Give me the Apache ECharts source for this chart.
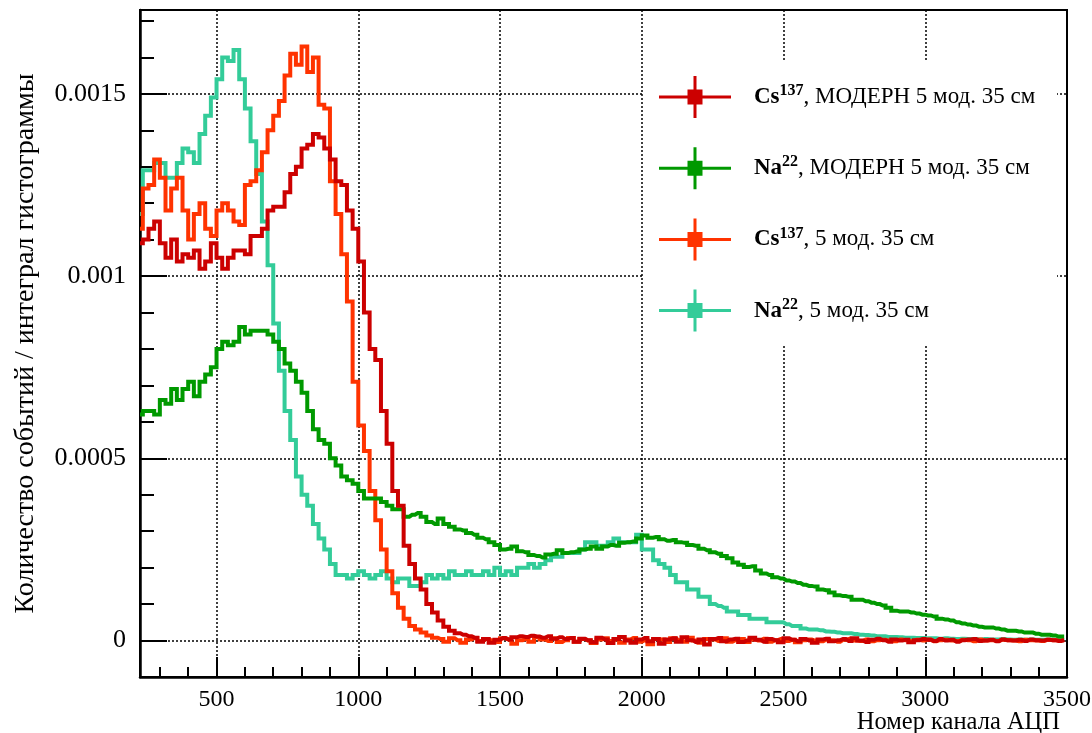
<!DOCTYPE html>
<html>
<head>
<meta charset="utf-8">
<script src="https://cdn.jsdelivr.net/npm/echarts@6.0.0/dist/echarts.min.js"></script>
<style>
html, body { margin: 0; padding: 0; background: #fff; }
#chart { width: 1092px; height: 733px; }
</style>
</head>
<body>
<div id="chart"></div>
<script>
// ADC spectra, normalised to the histogram integral; 20-channel bins
const BIN_START = 230;   // centre of the first visible bin
const BIN_WIDTH = 20;

// Cs137, МОДЕРН 5 мод. 35 см
const csModern = [
  0.00109, 0.00110, 0.00113, 0.00115, 0.00109, 0.00105, 0.00110, 0.00104, 0.00106, 0.00105,
  0.00107, 0.00102, 0.00104, 0.00109, 0.00105, 0.00102, 0.00105, 0.00107, 0.00107, 0.00106,
  0.00111, 0.00111, 0.00113, 0.00118, 0.00119, 0.00119, 0.00123, 0.00128, 0.00130, 0.00135,
  0.00136, 0.00139, 0.00138, 0.00135, 0.00132, 0.00126, 0.00125, 0.00118, 0.00113, 0.00104,
  0.00090, 0.00080, 0.00077, 0.00063, 0.00054, 0.00041, 0.00037, 0.00026, 0.00021, 0.00017,
  0.00014, 0.00010, 0.000077, 0.000055, 0.000038, 0.000027, 0.000020, 0.000016, 0.000012, 0.000008,
  -3e-6, 4e-6, -6e-6, 2e-6, 7e-6, 3e-6, 9e-6, 12e-6, 10e-6, 13e-6,
  11e-6, 8e-6, 12e-6, 5e-6, 9e-6, 4e-6, 7e-6, -3e-6, 5e-6, 1e-6,
  -5e-6, 8e-6, 3e-6, -7e-6, 4e-6, 10e-6, 0, -6e-6, 3e-6, 7e-6,
  -2e-6, 4e-6, -9e-6, 3e-6, 6e-6, -3e-6, 9e-6, 1e-6, -4e-6, 3e-6,
  -11e-6, 4e-6, 7e-6, -2e-6, 3e-6, 5e-6, -4e-6, 0, 8e-6, 2e-6,
  -3e-6, 4e-6, 1e-6, -5e-6, 6e-6, 2e-6, -2e-6, 4e-6, 0, -6e-6,
  3e-6, 5e-6, -2e-6, 1e-6, 4e-6, -1e-6, 6e-6, 0, -4e-6, 2e-6,
  5e-6, 1e-6, -3e-6, 3e-6, 0, 2e-6, -5e-6, 1e-6, 4e-6, 2e-6,
  -1e-6, 4e-6, 0, 2e-6, -3e-6, 1e-6, 3e-6, 4e-6, -1e-6, 0,
  2e-6, -2e-6, 3e-6, 1e-6, 0, 2e-6, -1e-6, 3e-6, 1e-6, 0,
  2e-6, 1e-6, -1e-6, 2e-6
];

// Na22, МОДЕРН 5 мод. 35 см
const naModern = [
  0.00062, 0.00063, 0.00063, 0.00062, 0.00066, 0.00065, 0.00069, 0.00066, 0.00069, 0.00071,
  0.00067, 0.00071, 0.00073, 0.00075, 0.00080, 0.00082, 0.00081, 0.00082, 0.00086, 0.00084,
  0.00085, 0.00085, 0.00085, 0.00084, 0.00082, 0.00080, 0.00076, 0.00074, 0.00071, 0.00068,
  0.00063, 0.00058, 0.00055, 0.00054, 0.00050, 0.00048, 0.00045, 0.00044, 0.00043, 0.00041,
  0.00039, 0.00039, 0.00039, 0.00038, 0.00037, 0.00036, 0.00036, 0.00034, 0.000345, 0.00035,
  0.00034, 0.000325, 0.00032, 0.000335, 0.00032, 0.000312, 0.000305, 0.000302, 0.000295, 0.00029,
  0.000282, 0.000278, 0.00027, 0.000262, 0.00025, 0.000252, 0.000258, 0.000245, 0.000242, 0.000235,
  0.000232, 0.000228, 0.000236, 0.000238, 0.000248, 0.00024, 0.000242, 0.000244, 0.00025, 0.000252,
  0.000258, 0.000252, 0.000258, 0.000262, 0.00026, 0.000268, 0.00027, 0.000272, 0.00028, 0.000288,
  0.000282, 0.000284, 0.000278, 0.000274, 0.000276, 0.00027, 0.000268, 0.000262, 0.00026, 0.000252,
  0.000248, 0.000242, 0.000238, 0.000232, 0.000226, 0.000214, 0.000208, 0.000202, 0.000204, 0.000192,
  0.000184, 0.00018, 0.000174, 0.00017, 0.000165, 0.000162, 0.000158, 0.000153, 0.00015, 0.000148,
  0.00014, 0.000138, 0.000132, 0.000124, 0.000122, 0.00012, 0.000112, 0.000112, 0.000108, 0.000104,
  0.0001, 0.000096, 0.00009, 0.000082, 0.00008, 0.00008, 0.000077, 0.000074, 0.000071, 0.000069,
  0.000066, 0.00006, 0.000058, 0.000055, 0.00005, 0.000047, 0.000044, 0.000041, 0.000038, 0.000036,
  0.000036, 0.000033, 0.00003, 0.000027, 0.000027, 0.000025, 0.000022, 0.000022, 0.000019, 0.000016,
  0.000016, 0.000014, 0.000011, 0.000011
];

// Cs137, 5 мод. 35 см
const cs5 = [
  0.00113, 0.00124, 0.00125, 0.00132, 0.00127, 0.00118, 0.00124, 0.00127, 0.00118, 0.00110,
  0.00117, 0.00120, 0.00113, 0.00111, 0.00118, 0.00120, 0.00118, 0.00115, 0.00114, 0.00125,
  0.00126, 0.00129, 0.00134, 0.00140, 0.00144, 0.00148, 0.00155, 0.00161, 0.00158, 0.00163,
  0.00156, 0.00160, 0.00147, 0.00146, 0.00126, 0.00117, 0.00106, 0.00093, 0.00071, 0.00059,
  0.00052, 0.00041, 0.00033, 0.00025, 0.00019, 0.00013, 0.00009, 0.00006, 0.00004, 0.00003,
  0.000022, 0.000014, 0.000008,
  4e-6, -3e-6, 6e-6, 1e-6, -6e-6, 3e-6, 7e-6, -1e-6, 4e-6, 0,
  -4e-6, 6e-6, 3e-6, -9e-6, 1e-6, 4e-6, -3e-6, 9e-6, 3e-6, -1e-6,
  6e-6, -4e-6, 1e-6, 7e-6, -3e-6, 4e-6, 0, -7e-6, 3e-6, 6e-6,
  -1e-6, 4e-6, -6e-6, 3e-6, 7e-6, -3e-6, 1e-6, -10e-6, 4e-6, 3e-6,
  -4e-6, 6e-6, 1e-6, -3e-6, 8e-6, 0, -6e-6, 4e-6, 3e-6, -1e-6,
  6e-6, -3e-6, 1e-6, 4e-6, -4e-6, 3e-6, 0, 5e-6, -3e-6, 1e-6,
  4e-6, -1e-6, 2e-6, -5e-6, 1e-6, 3e-6, 0, -2e-6, 2e-6, 1e-6,
  -3e-6, 2e-6, 4e-6, 0, -1e-6, 3e-6, -2e-6, 1e-6, 2e-6, 0,
  -2e-6, 3e-6, 1e-6, -1e-6, 2e-6, 0, 3e-6, -2e-6, 1e-6, 2e-6,
  0, -1e-6, 2e-6, 1e-6, -2e-6, 3e-6, 0, 1e-6, -1e-6, 2e-6,
  1e-6, 0, -2e-6, 2e-6, 1e-6, 0, -1e-6, 2e-6, 1e-6, 0, 1e-6
];

// Na22, 5 мод. 35 см
const na5 = [
  0.00117, 0.00129, 0.00129, 0.00131, 0.00131, 0.00127, 0.00127, 0.00131, 0.00135, 0.00134,
  0.00131, 0.00139, 0.00144, 0.00149, 0.00154, 0.00160, 0.00159, 0.00162, 0.00154, 0.00146,
  0.00137, 0.00128, 0.00115, 0.00103, 0.00087, 0.00074, 0.00063, 0.00055, 0.00045, 0.00040,
  0.00037, 0.00032, 0.00028, 0.00025, 0.00021, 0.00018, 0.00018, 0.00017, 0.00018, 0.00019,
  0.00018, 0.00017, 0.00018, 0.00019, 0.00017, 0.00016, 0.00017, 0.00017, 0.00015, 0.00015,
  0.00016, 0.00018, 0.00017, 0.00018, 0.00017, 0.00019, 0.00018, 0.00018, 0.00019, 0.00018,
  0.00018, 0.00019, 0.00018, 0.00020, 0.00018, 0.00019, 0.00018, 0.00020, 0.00020, 0.00021,
  0.00020, 0.00021, 0.00022, 0.00023, 0.00023, 0.00024, 0.00024, 0.00024, 0.00025, 0.00027,
  0.00027, 0.00026, 0.00026, 0.00027, 0.00028, 0.00027, 0.00027, 0.00027, 0.00029, 0.00025,
  0.00025, 0.00022, 0.00021, 0.00020, 0.00018, 0.00016, 0.00016, 0.00014, 0.00014, 0.00012,
  0.00012, 0.00010, 0.000095, 0.00009, 0.00008, 0.00008, 0.00007, 0.00007, 0.00006, 0.00006,
  0.00006, 0.00005, 0.00005, 0.00005, 0.000045, 0.00004, 0.00004, 0.000033, 0.00003, 0.00003,
  0.000028, 0.000025, 0.000024, 0.000022, 0.00002, 0.00002, 0.000018, 0.000016, 0.000015, 0.000014,
  0.000012, 0.000012, 0.00001, 0.00001, 0.000009, 0.000008, 0.000008, 0.000007, 0.000007, 0.000006,
  6e-6, 5e-6, 6e-6, 5e-6, 4e-6, 5e-6, 4e-6, 4e-6, 3e-6, 4e-6,
  3e-6, 3e-6, 4e-6, 3e-6, 2e-6, 3e-6, 2e-6, 3e-6, 2e-6, 2e-6,
  3e-6, 2e-6, 2e-6, 1e-6
];

// Legend text pieces
const seriesNames = ['Cs137, МОДЕРН 5 мод. 35 см', 'Na22, МОДЕРН 5 мод. 35 см', 'Cs137, 5 мод. 35 см', 'Na22, 5 мод. 35 см'];
const isotopes = ['Cs', 'Na', 'Cs', 'Na'];
const massNumbers = ['137', '22', '137', '22'];
const setups = [', МОДЕРН 5 мод. 35 см', ', МОДЕРН 5 мод. 35 см', ', 5 мод. 35 см', ', 5 мод. 35 см'];

// Axis ticks
const xMajorTicks = [500, 1000, 1500, 2000, 2500, 3000, 3500];
const xMinorTicks = [300, 400, 500, 600, 700, 800, 900, 1000, 1100, 1200, 1300, 1400, 1500, 1600, 1700,
  1800, 1900, 2000, 2100, 2200, 2300, 2400, 2500, 2600, 2700, 2800, 2900, 3000, 3100, 3200, 3300, 3400, 3500];
const yMajorTicks = [0, 0.0005, 0.001, 0.0015];
const yMajorLabels = ['0', '0.0005', '0.001', '0.0015'];
const yMinorTicks = [0.0001, 0.0002, 0.0003, 0.0004, 0.0006, 0.0007, 0.0008, 0.0009,
  0.0011, 0.0012, 0.0013, 0.0014, 0.0016, 0.0017];

const X_MIN = 230, X_MAX = 3500;
const Y_MIN = -0.0001, Y_MAX = 0.00173;

const serif = "'Liberation Serif', 'DejaVu Serif', serif";
const colors = ['#cc0000', '#009900', '#ff3300', '#33cc99'];
const values = [csModern, naModern, cs5, na5];
const drawOrder = [3, 2, 1, 0];   // teal first, dark red last (on top)

const toPoints = arr => arr.map((v, i) => [BIN_START + BIN_WIDTH * i, v]);

const dotted = { color: '#000', width: 1.5, type: [2, 2] };

const option = {
  animation: false,
  backgroundColor: '#fff',
  grid: {
    left: 140, top: 10, width: 927, height: 667,
    show: true, borderColor: '#000', borderWidth: 2,
    containLabel: false, outerBoundsMode: 'none'
  },
  xAxis: [
    {
      type: 'value', min: X_MIN, max: X_MAX, position: 'bottom',
      axisLine: { show: true, onZero: false, lineStyle: { color: '#000', width: 2.5 } },
      axisTick: { show: true, inside: true, length: 10, customValues: xMinorTicks, lineStyle: { color: '#000', width: 2 } },
      axisLabel: { show: false },
      splitLine: { show: false }
    },
    {
      type: 'value', min: X_MIN, max: X_MAX, position: 'bottom',
      axisLine: { show: false, onZero: false },
      axisTick: { show: true, inside: true, length: 20, customValues: xMajorTicks, lineStyle: { color: '#000', width: 2 } },
      axisLabel: {
        show: true, customValues: xMajorTicks, margin: 11, fontSize: 24, fontFamily: serif, color: '#000',
        formatter: v => String(v)
      },
      splitLine: { show: true, lineStyle: dotted },
      name: 'Номер канала АЦП',
      nameLocation: 'end',
      nameGap: -7,
      nameMoveOverlap: false,
      nameTextStyle: { fontSize: 24.5, fontFamily: serif, color: '#000', align: 'right', verticalAlign: 'top', padding: [33, 0, 0, 0] }
    }
  ],
  yAxis: [
    {
      type: 'value', min: Y_MIN, max: Y_MAX, position: 'left',
      axisLine: { show: true, onZero: false, lineStyle: { color: '#000', width: 2.5 } },
      axisTick: { show: true, inside: true, length: 14, customValues: yMinorTicks, lineStyle: { color: '#000', width: 2 } },
      axisLabel: { show: false },
      splitLine: { show: false }
    },
    {
      type: 'value', min: Y_MIN, max: Y_MAX, position: 'left',
      axisLine: { show: false, onZero: false },
      axisTick: { show: true, inside: true, length: 27, customValues: yMajorTicks, lineStyle: { color: '#000', width: 2 } },
      axisLabel: {
        show: true, customValues: yMajorTicks, margin: 14, fontSize: 26, fontFamily: serif, color: '#000',
        formatter: v => {
          const k = yMajorTicks.findIndex(t => Math.abs(t - v) < 1e-9);
          return k >= 0 ? yMajorLabels[k] : '';
        }
      },
      splitLine: { show: true, lineStyle: dotted },
      name: 'Количество событий / интеграл гистограммы',
      nameLocation: 'middle',
      nameRotate: 90,
      nameGap: 100,
      nameMoveOverlap: false,
      nameTextStyle: { fontSize: 28, fontFamily: serif, color: '#000' }
    }
  ],
  legend: {
    orient: 'vertical',
    left: 642, top: 61.5,
    padding: [14.5, 0, 0, 17],
    itemWidth: 72, itemHeight: 42, itemGap: 29.2,
    icon: 'path://M0 19.5H72V22.5H0Z M34.5 0H37.5V42H34.5Z M28.5 13.5H43.5V28.5H28.5Z',
    itemStyle: { borderWidth: 0 },
    selectedMode: false,
    data: seriesNames,
    formatter: name => {
      const k = seriesNames.indexOf(name);
      return '{iso|' + isotopes[k] + '}{mass|' + massNumbers[k] + '}{rest|' + setups[k] + '}';
    },
    textStyle: {
      color: '#000', fontFamily: serif, fontSize: 23,
      rich: {
        iso: { fontFamily: serif, fontSize: 23, fontWeight: 'bold', color: '#000', lineHeight: 28, padding: [0, 0, 0, 18] },
        mass: { fontFamily: serif, fontSize: 16, fontWeight: 'bold', color: '#000', lineHeight: 19, verticalAlign: 'top' },
        rest: { fontFamily: serif, fontSize: 23, color: '#000', lineHeight: 28 }
      }
    }
  },
  graphic: [
    {
      type: 'rect', left: 643, top: 61.5, z: 3, silent: true,
      shape: { width: 414, height: 284 },
      style: { fill: '#fff' }
    }
  ],
  series: drawOrder.map(k => ({
    name: seriesNames[k],
    type: 'line',
    xAxisIndex: 0,
    yAxisIndex: 0,
    step: 'middle',
    symbol: 'none',
    showSymbol: false,
    silent: true,
    color: colors[k],
    itemStyle: { color: colors[k] },
    lineStyle: { color: colors[k], width: 4, join: 'miter' },
    data: toPoints(values[k])
  }))
};

const chart = echarts.init(document.getElementById('chart'), null, { renderer: 'canvas' });
chart.setOption(option);
</script>
</body>
</html>
